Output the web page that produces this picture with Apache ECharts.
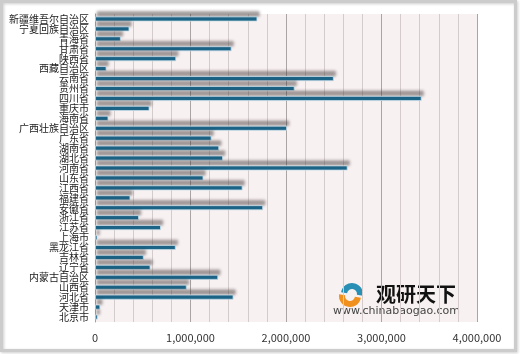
<!DOCTYPE html>
<html>
<head>
<meta charset="utf-8">
<script src="https://cdn.jsdelivr.net/npm/echarts@6/dist/echarts.min.js"></script>
<style>
  html, body { margin: 0; padding: 0; background: #fff; }
  #main { width: 520px; height: 354px; }
</style>
</head>
<body>
<div id="main"></div>
<script>
// provinces, top to bottom as shown
const provinces = [
  '新疆维吾尔自治区', '宁夏回族自治区', '青海省', '甘肃省', '陕西省', '西藏自治区',
  '云南省', '贵州省', '四川省', '重庆市', '海南省', '广西壮族自治区', '广东省',
  '湖南省', '湖北省', '河南省', '山东省', '江西省', '福建省', '安徽省', '浙江省',
  '江苏省', '上海市', '黑龙江省', '吉林省', '辽宁省', '内蒙古自治区', '山西省',
  '河北省', '天津市', '北京市'
];
const values = [
  1700000, 360000, 270000, 1430000, 850000, 120000,
  2500000, 2090000, 3420000, 570000, 140000, 2010000, 1220000,
  1300000, 1340000, 2645000, 1135000, 1545000, 370000, 1760000, 460000,
  690000, 25000, 845000, 510000, 580000, 1290000, 960000,
  1450000, 55000, 28000
];
const xTicks = [0, 1000000, 2000000, 3000000, 4000000];

function fmt(v) {
  return String(v).replace(/\B(?=(\d{3})+(?!\d))/g, ',');
}

const chart = echarts.init(document.getElementById('main'), null, { renderer: 'canvas' });

chart.setOption({
  animation: false,
  backgroundColor: '#fff',
  grid: {
    left: 95, right: 43, top: 14, bottom: 32,
    show: true,
    backgroundColor: '#f8f1f1',
    borderWidth: 0
  },
  xAxis: {
    type: 'value',
    min: xTicks[0],
    max: xTicks[xTicks.length - 1],
    interval: 1000000,
    axisLine: { show: false },
    axisTick: { show: false },
    axisLabel: {
      fontSize: 11,
      color: '#333',
      margin: 10,
      fontFamily: 'Noto Sans CJK SC',
      formatter: fmt
    },
    splitLine: { show: true, lineStyle: { color: '#aaa4a4', width: 1 } },
    minorTick: { show: false, splitNumber: 5 },
    minorSplitLine: { show: true, lineStyle: { color: '#d4cccc', width: 1 } }
  },
  yAxis: {
    type: 'category',
    inverse: true,
    data: provinces,
    axisLine: { show: true, lineStyle: { color: '#a0a0a0' } },
    axisTick: { show: false },
    axisLabel: {
      interval: 0,
      fontSize: 10,
      color: '#222',
      margin: 6,
      fontFamily: 'Noto Sans CJK SC'
    }
  },
  series: [{
    type: 'bar',
    data: values,
    barWidth: 5,
    itemStyle: {
      color: '#1b6589',
      borderColor: '#c9dde8',
      borderWidth: 0.8,
      shadowColor: 'rgba(70,60,60,0.5)',
      shadowBlur: 3,
      shadowOffsetX: 2,
      shadowOffsetY: -5
    }
  }],
  graphic: [
    {
      type: 'rect',
      shape: { x: 1.5, y: 1.5, width: 514, height: 349 },
      style: {
        fill: 'none', stroke: '#cccccc', lineWidth: 3,
        shadowColor: 'rgba(0,0,0,0.2)', shadowBlur: 3, shadowOffsetX: 1, shadowOffsetY: 1
      },
      silent: true
    },
    {
      type: 'sector',
      shape: { cx: 352, cy: 294, r0: 5, r: 11, startAngle: -Math.PI * 0.95, endAngle: Math.PI * 0.05 },
      style: { fill: '#2a8fb5' },
      silent: true
    },
    {
      type: 'sector',
      shape: { cx: 350, cy: 296, r0: 5, r: 11, startAngle: Math.PI * 0.05, endAngle: Math.PI * 1.05 },
      style: { fill: '#f0901e' },
      silent: true
    },
    {
      type: 'text',
      left: 376, top: 284,
      style: { text: '观研天下', fill: '#111', font: 'bold 20px "Noto Sans CJK SC"' },
      silent: true
    },
    {
      type: 'text',
      left: 333, top: 306,
      style: { text: 'www.chinabaogao.com', fill: '#444', font: '11px "DejaVu Sans"' },
      silent: true
    }
  ]
});
</script>
</body>
</html>
